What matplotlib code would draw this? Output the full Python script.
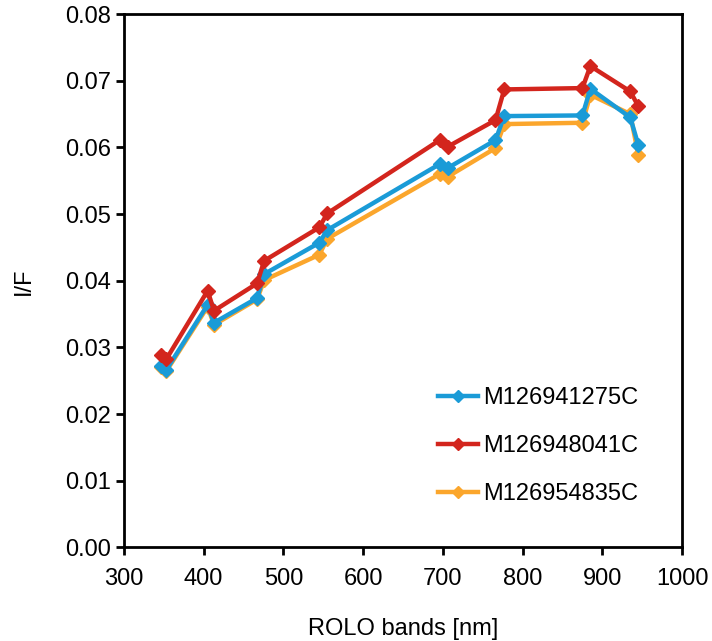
import matplotlib.pyplot as plt

plt.rcParams['font.family'] = ['Liberation Sans', 'DejaVu Sans']

bands = [347, 353, 405, 413, 467, 476, 545, 555, 696, 706, 766, 777, 875, 885, 935, 945]

blue_vals = [0.0272, 0.0266, 0.0364, 0.0337, 0.0374, 0.0410, 0.0457, 0.0476,
             0.0575, 0.0569, 0.0611, 0.0647, 0.0648, 0.0688, 0.0645, 0.0604]
red_vals = [0.0289, 0.0282, 0.0385, 0.0355, 0.0396, 0.0430, 0.0480, 0.0501,
            0.0611, 0.0601, 0.0641, 0.0687, 0.0689, 0.0722, 0.0684, 0.0662]
orange_vals = [0.0270, 0.0264, 0.0361, 0.0334, 0.0372, 0.0401, 0.0439, 0.0463,
               0.0560, 0.0556, 0.0599, 0.0635, 0.0637, 0.0679, 0.0650, 0.0589]

labels = ['M126941275C', 'M126948041C', 'M126954835C']
colors = ['#1a9bd7', '#d3251d', '#fba62c']

fig = plt.figure(figsize=(7.12, 6.41), dpi=100)
ax = fig.add_axes([0.174, 0.146, 0.784, 0.832])

# orange at the back, red on top
ax.plot(bands, orange_vals, color=colors[2], lw=3.2, marker='D', ms=7.5, label=labels[2], zorder=2)
ax.plot(bands, blue_vals, color=colors[0], lw=3.2, marker='D', ms=7.5, label=labels[0], zorder=3)
ax.plot(bands, red_vals, color=colors[1], lw=3.2, marker='D', ms=7.5, label=labels[1], zorder=4)

ax.set_xlim(300, 1000)
ax.set_ylim(0, 0.08)
ax.set_xticks(range(300, 1001, 100))
ax.set_yticks([i / 100 for i in range(9)])
ax.set_yticklabels(['%.2f' % (i / 100) for i in range(9)])

for s in ax.spines.values():
    s.set_linewidth(2)
ax.tick_params(direction='out', length=6, width=2, labelsize=17)
ax.tick_params(axis='x', pad=9)
ax.tick_params(axis='y', pad=3)

ax.set_xlabel('ROLO bands [nm]', fontsize=17, labelpad=20)
ax.set_ylabel('I/F', fontsize=17, labelpad=22)

h, l = ax.get_legend_handles_labels()
order = [1, 2, 0]
leg = ax.legend([h[i] for i in order], [l[i] for i in order], loc='lower right',
                bbox_to_anchor=(0.959, 0.039), frameon=False, fontsize=17,
                labelspacing=1.1, handlelength=1.7, handletextpad=0.2, markerscale=0.8)

fig.savefig('out.png', dpi=100)
